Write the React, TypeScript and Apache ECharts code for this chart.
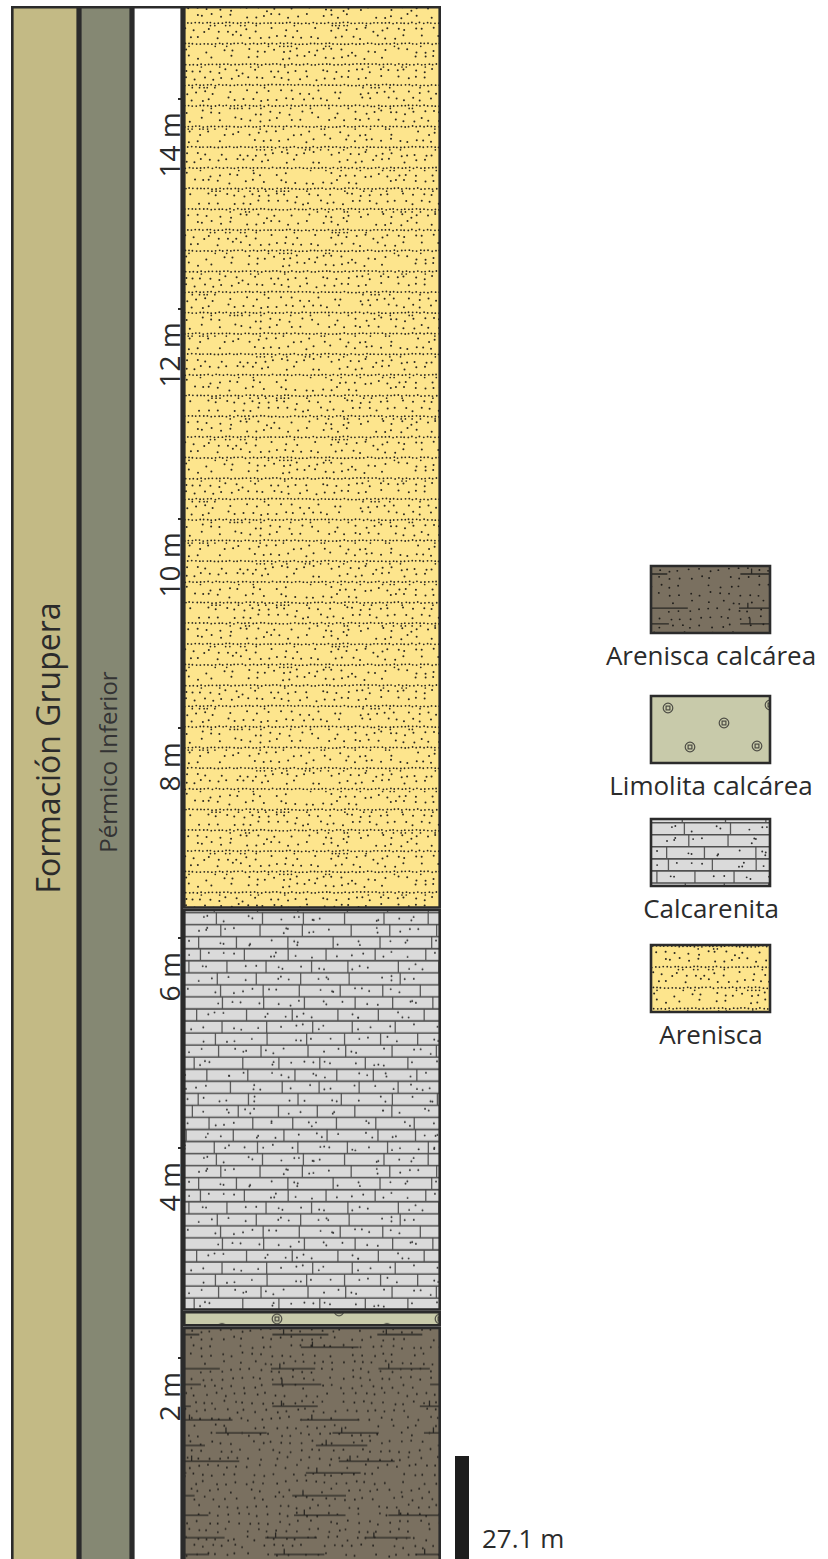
import React, { useEffect, useRef } from 'react';
import * as echarts from 'echarts';

// ---------------- data ----------------
const sectionTop = 14.88; // m, top of the measured section
const lithologies = ['Arenisca calcárea', 'Limolita calcárea', 'Calcarenita', 'Arenisca'];
const layerBase = [0, 2.3, 2.45, 6.28];
const layerTop = [2.3, 2.45, 6.28, 14.88];
const depthTickStep = 2;
const depthUnit = 'm';
const formationName = 'Formación Grupera';
const periodName = 'Pérmico Inferior';
const scaleBarLabel = '27.1 m';
const legendLabels = ['Arenisca calcárea', 'Limolita calcárea', 'Calcarenita', 'Arenisca'];

// ---------------- layout / style ----------------
const W = 828;
const H = 1559;
const GRID_TOP = 6;
const GRID_BOTTOM = -9;
const PLOT_H = H - GRID_TOP - GRID_BOTTOM;
const BORDER = '#2b2b2b';
const FONT = "'Open Sans', 'Noto Sans', sans-serif";
const COLS = [
  { left: 11, width: 68, fill: '#C3BA85' },
  { left: 79, width: 53, fill: '#858873' },
  { left: 132, width: 51, fill: '#FFFFFF' },
  { left: 183, width: 258, fill: '' },
];
const yPix = (v: number) => GRID_TOP + ((sectionTop - v) / sectionTop) * PLOT_H;

// ---------------- textures ----------------
type Tile = { c: HTMLCanvasElement; w: number; h: number };
function rng(seed: number) {
  let s = seed >>> 0;
  return () => {
    s = (s + 0x6d2b79f5) >>> 0;
    let t = s;
    t = Math.imul(t ^ (t >>> 15), t | 1);
    t ^= t + Math.imul(t ^ (t >>> 7), t | 61);
    return ((t ^ (t >>> 14)) >>> 0) / 4294967296;
  };
}
function mk(w: number, h: number) {
  const c = document.createElement('canvas');
  c.width = w;
  c.height = h;
  return { c, g: c.getContext('2d') as CanvasRenderingContext2D };
}
function dot(g: CanvasRenderingContext2D, x: number, y: number, r: number) {
  g.beginPath();
  g.arc(x, y, r, 0, Math.PI * 2);
  g.fill();
}

function sandTile(): Tile {
  const w = 258, h = 207, step = 20.7;
  const { c, g } = mk(w, h);
  const r = rng(7);
  g.fillStyle = '#FDE58D';
  g.fillRect(0, 0, w, h);
  g.fillStyle = '#2a271f';
  const wrap = (y: number) => ((y % h) + h) % h;
  for (let k = 0; k < 10; k++) {
    const y0 = 17 + k * step;
    for (let x = 1 + r() * 2; x < w; x += 3.8) {
      dot(g, x + (r() - 0.5) * 0.8, y0 + (r() - 0.5) * 1.2, 0.9);
      if (r() < 0.22) dot(g, x + (r() - 0.5), y0 + 2.6, 0.85);
    }
    for (const dy of [6.9, 13.8]) {
      for (let x = r() * 8.5; x < w; x += 8.5) {
        if (r() < 0.15) continue;
        dot(g, x + (r() - 0.5) * 5, wrap(y0 + dy + (r() - 0.5) * 4.5), 1.0);
      }
    }
  }
  return { c, w, h };
}

function brickTile(): Tile {
  const w = 258, step = 12.05, rows = 20, h = 241;
  const { c, g } = mk(w, h);
  const r = rng(23);
  g.fillStyle = '#DADADA';
  g.fillRect(0, 0, w, h);
  for (let k = 0; k < rows; k++) {
    const top = 3.7 + k * step;
    const offs = [0];
    if (top + step > h) offs.push(-h);
    const joints: number[] = [];
    for (let x = -r() * 40; x < w; x += 36 + r() * 16) joints.push(x);
    const dots: number[][] = [];
    for (let i = 0; i < joints.length; i++) {
      const x0 = joints[i];
      const x1 = i + 1 < joints.length ? joints[i + 1] : w + 20;
      const n = Math.max(1, Math.round((x1 - x0) / 16));
      for (let j = 0; j < n; j++) {
        dots.push([x0 + 4 + r() * (x1 - x0 - 8), top + 3.2 + r() * (step - 6.4)]);
      }
    }
    for (const o of offs) {
      g.strokeStyle = '#5a5a5a';
      g.lineWidth = 1.3;
      for (const x of joints) {
        g.beginPath();
        g.moveTo(x, top + o);
        g.lineTo(x, top + step + o);
        g.stroke();
      }
      g.fillStyle = '#2e2e2e';
      for (const d of dots) dot(g, d[0], d[1] + o, 0.95);
    }
  }
  g.strokeStyle = '#505050';
  g.lineWidth = 1.6;
  for (let k = 0; k < rows; k++) {
    const y = 3.7 + k * step;
    g.beginPath();
    g.moveTo(0, y);
    g.lineTo(w, y);
    g.stroke();
  }
  return { c, w, h };
}

function limeSiltTile(w: number, h: number, spots: number[][]): Tile {
  const { c, g } = mk(w, h);
  g.fillStyle = '#C8CAAA';
  g.fillRect(0, 0, w, h);
  g.strokeStyle = '#4d4d45';
  g.lineWidth = 1.2;
  for (const [x, y] of spots) {
    g.beginPath();
    g.arc(x, y, 4.8, 0, Math.PI * 2);
    g.stroke();
    g.strokeRect(x - 1.9, y - 1.9, 3.8, 3.8);
  }
  return { c, w, h };
}

function calcSandTile(): Tile {
  const w = 258, h = 240;
  const { c, g } = mk(w, h);
  const r = rng(41);
  g.fillStyle = '#7A7060';
  g.fillRect(0, 0, w, h);
  g.fillStyle = '#1f1d1a';
  for (let y = 4; y < h; y += 8) {
    for (let x = r() * 10; x < w; x += 10) {
      if (r() < 0.14) continue;
      dot(g, x + (r() - 0.5) * 5, y + (r() - 0.5) * 4, 0.95);
    }
  }
  g.strokeStyle = '#2a2824';
  g.lineWidth = 1.3;
  let y = 8;
  while (y < h - 6) {
    let x = -r() * 60;
    while (x < w) {
      const len = 44 + r() * 16;
      g.beginPath();
      g.moveTo(x, y);
      g.lineTo(x + len, y);
      const tx = x + len * 0.2;
      g.moveTo(tx, y);
      g.lineTo(tx, y - 5.5);
      g.stroke();
      x += len + 40 + r() * 85;
    }
    y += 11 + r() * 12;
  }
  return { c, w, h };
}

// Pattern tiles are anchored at the page origin: shift the tile content so that
// its top-left corner falls on (ox, oy).
function anchored(t: Tile, ox: number, oy: number) {
  const dx = ((ox % t.w) + t.w) % t.w;
  const dy = ((oy % t.h) + t.h) % t.h;
  const { c, g } = mk(t.w, t.h);
  for (const i of [-1, 0]) {
    for (const j of [-1, 0]) {
      g.drawImage(t.c, dx + i * t.w, dy + j * t.h);
    }
  }
  return { image: c, repeat: 'repeat', imageWidth: t.w, imageHeight: t.h };
}

export default function App() {
  const ref = useRef<HTMLDivElement>(null);
  useEffect(() => {
    if (!ref.current) return;
    const chart = echarts.init(ref.current, null, { renderer: 'svg' });

    const sand = sandTile();
    const brick = brickTile();
    const calc = calcSandTile();
    const siltCol = limeSiltTile(258, 20, [[94, 8], [156, 0], [257, 8], [39, 17.5], [204, 17.5]]);
    const siltLeg = limeSiltTile(119, 67, [[17, 12], [73, 27], [39, 51], [106, 50], [119, 9]]);

    const LX = COLS[3].left;
    const colFills = [
      anchored(calc, LX, yPix(layerTop[0])),
      anchored(siltCol, LX, yPix(layerTop[1])),
      anchored(brick, LX, yPix(layerTop[2])),
      anchored(sand, LX, yPix(layerTop[3])),
    ];

    const legendX = 651, legendW = 119, legendH = 67;
    const legendY = [566, 696, 819, 945];
    const legendFills = [
      anchored(calc, legendX, legendY[0]),
      anchored(siltLeg, legendX, legendY[1]),
      anchored(brick, legendX, legendY[2]),
      anchored(sand, legendX, legendY[3] + 5),
    ];

    const grids = COLS.map((c) => ({
      left: c.left,
      width: c.width,
      top: GRID_TOP,
      bottom: GRID_BOTTOM,
      containLabel: false,
      outerBoundsMode: 'none',
    }));
    const xAxes = COLS.map((_, i) => ({
      type: 'category',
      gridIndex: i,
      data: ['col'],
      show: false,
    }));
    const yAxes = COLS.map((_, i) => ({
      type: 'value',
      gridIndex: i,
      min: 0,
      max: sectionTop,
      interval: depthTickStep,
      show: i === 3,
      z: 10,
      axisLine: { show: false },
      splitLine: { show: false },
      axisTick: { show: i === 3, length: 5, lineStyle: { color: BORDER, width: 2 } },
      axisLabel: {
        show: i === 3,
        rotate: 90,
        margin: 14,
        align: 'right',
        verticalAlign: 'middle',
        padding: [0, 14, 0, 0],
        fontSize: 28,
        fontFamily: FONT,
        color: '#2b2b2b',
        showMinLabel: false,
        showMaxLabel: false,
        formatter: (v: number) => `${v} ${depthUnit}`,
      },
    }));

    const series: any[] = [];
    for (let i = 0; i < 3; i++) {
      series.push({
        type: 'bar',
        xAxisIndex: i,
        yAxisIndex: i,
        barWidth: '100%',
        z: 1,
        data: [sectionTop],
        itemStyle: { color: COLS[i].fill, borderColor: BORDER, borderWidth: 2.6 },
        silent: true,
      });
    }
    lithologies.forEach((name, i) => {
      series.push({
        type: 'bar',
        name,
        xAxisIndex: 3,
        yAxisIndex: 3,
        stack: 'litho',
        barWidth: '100%',
        z: 2,
        data: [+(layerTop[i] - layerBase[i]).toFixed(3)],
        itemStyle: { color: colFills[i], borderColor: BORDER, borderWidth: 2.6 },
        silent: true,
      });
    });

    const graphic: any[] = [
      {
        type: 'text',
        x: 47,
        y: 748,
        z: 50,
        rotation: Math.PI / 2,
        silent: true,
        style: { text: formationName, fontSize: 32, fontFamily: FONT, fill: '#2b2b2b', align: 'center', verticalAlign: 'middle' },
      },
      {
        type: 'text',
        x: 107,
        y: 762,
        z: 50,
        rotation: Math.PI / 2,
        silent: true,
        style: { text: periodName, fontSize: 24, fontFamily: FONT, fill: '#333333', align: 'center', verticalAlign: 'middle' },
      },
      {
        type: 'rect',
        z: 50,
        shape: { x: 455, y: 1456, width: 14, height: 120 },
        style: { fill: '#1d1d1d' },
        silent: true,
      },
      {
        type: 'text',
        x: 482,
        y: 1538,
        z: 50,
        silent: true,
        style: { text: scaleBarLabel, fontSize: 26, fontFamily: FONT, fill: '#2b2b2b', align: 'left', verticalAlign: 'middle' },
      },
    ];
    legendLabels.forEach((label, i) => {
      graphic.push({
        type: 'rect',
        z: 50,
        shape: { x: legendX, y: legendY[i], width: legendW, height: legendH },
        style: { fill: legendFills[i], stroke: BORDER, lineWidth: 2.6 },
        silent: true,
      });
      graphic.push({
        type: 'text',
        x: 711,
        y: legendY[i] + legendH + 22,
        z: 50,
        silent: true,
        style: { text: label, fontSize: 26, fontFamily: FONT, fill: '#2b2b2b', align: 'center', verticalAlign: 'middle' },
      });
    });

    chart.setOption({
      animation: false,
      backgroundColor: '#ffffff',
      grid: grids,
      xAxis: xAxes,
      yAxis: yAxes,
      series,
      graphic,
    });
    return () => chart.dispose();
  }, []);

  return (
    <div
      ref={ref}
      style={{ position: 'absolute', left: 0, top: 0, width: W, height: H, background: '#fff' }}
    />
  );
}
